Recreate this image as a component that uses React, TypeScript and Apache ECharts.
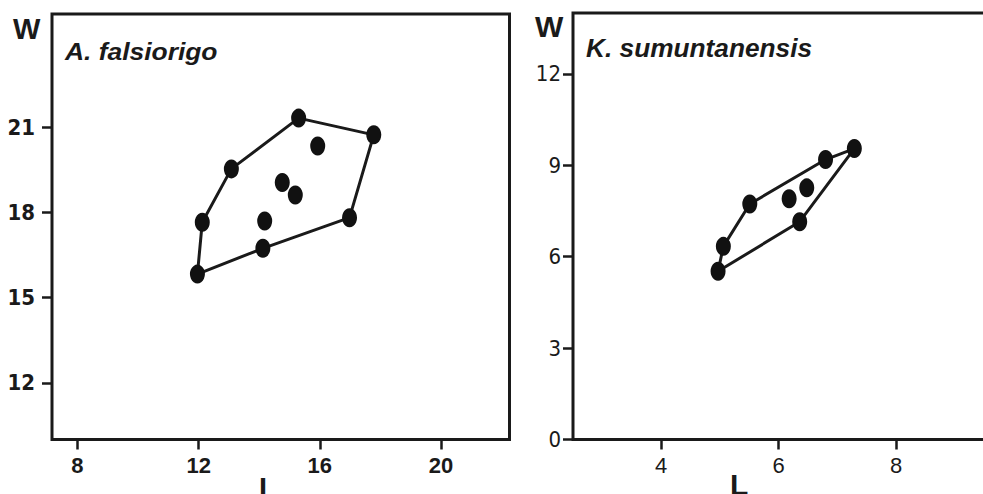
import React, { useEffect, useRef } from "react";
import * as echarts from "echarts";

// A. falsiorigo — length (L) and width (W)
const aL = [15.3, 17.78, 15.93, 13.08, 14.76, 15.19, 12.12, 14.18, 16.98, 14.12, 11.96];
const aW = [21.33, 20.74, 20.35, 19.54, 19.06, 18.62, 17.66, 17.7, 17.82, 16.74, 15.83];
const aHull = [10, 6, 3, 0, 1, 8, 9, 10];
const aLTicks = [8, 12, 16, 20];
const aWTicks = [12, 15, 18, 21];

// K. sumuntanensis — length (L) and width (W)
const kL = [7.29, 6.8, 5.51, 6.48, 6.18, 6.36, 5.06, 4.97];
const kW = [9.55, 9.19, 7.73, 8.26, 7.9, 7.15, 6.34, 5.52];
const kHull = [7, 6, 2, 1, 0, 5, 7];
const kLTicks = [4, 6, 8];
const kWTicks = [0, 3, 6, 9, 12];

const titles = ["A. falsiorigo", "K. sumuntanensis"];
const axisNames = { x: "L", y: "W" };

const INK = "#1a1a1a";
const NARROW = "'Liberation Sans Narrow', 'Arial Narrow', 'DejaVu Sans Condensed', sans-serif";
const SANS = "'Liberation Sans', Arial, Helvetica, sans-serif";

function pts(xs: number[], ys: number[]) {
  return xs.map((x, i) => [x, ys[i]]);
}
function hull(xs: number[], ys: number[], order: number[]) {
  return order.map((i) => [xs[i], ys[i]]);
}

export default function App() {
  const ref = useRef<HTMLDivElement>(null);
  useEffect(() => {
    if (!ref.current) return;
    const chart = echarts.init(ref.current, undefined, { renderer: "svg" });

    const xAxisBase = (gridIndex: number, min: number, max: number, ticks: number[], weight: string) => ({
      type: "value",
      gridIndex,
      min,
      max,
      axisLine: { show: false },
      splitLine: { show: false },
      axisTick: { show: true, inside: false, length: 10, lineStyle: { color: INK, width: 2.5 }, customValues: ticks },
      axisLabel: {
        show: true,
        margin: 15,
        customValues: ticks,
        color: INK,
        fontSize: 22,
        fontWeight: weight,
        fontFamily: SANS,
      },
    });
    const yAxisBase = (gridIndex: number, min: number, max: number, ticks: number[], weight: string, margin: number) => ({
      type: "value",
      gridIndex,
      min,
      max,
      axisLine: { show: false },
      splitLine: { show: false },
      axisTick: { show: true, inside: false, length: 10, lineStyle: { color: INK, width: 2.5 }, customValues: ticks },
      axisLabel: {
        show: true,
        margin,
        customValues: ticks,
        color: INK,
        fontSize: 22,
        fontWeight: weight,
        fontFamily: NARROW,
      },
    });

    const marker = { color: "#111", opacity: 1 };
    const lineStyle = { color: INK, width: 3 };

    const textEl = (text: string, x: number, y: number, size: number, style: string, scaleX = 1) => ({
      type: "text",
      x,
      y,
      scaleX,
      z: 100,
      style: {
        text,
        fill: INK,
        fontSize: size,
        fontWeight: "bold",
        fontStyle: style,
        fontFamily: SANS,
        align: "left",
        verticalAlign: "middle",
        textAlign: "left",
        textVerticalAlign: "middle",
      },
    });

    chart.setOption({
      animation: false,
      backgroundColor: "#ffffff",
      grid: [
        { left: 52, top: 14, width: 457.5, height: 425.5, show: true, borderColor: INK, borderWidth: 3, backgroundColor: "transparent" },
        { left: 573, top: 13, width: 417, height: 426.5, show: true, borderColor: INK, borderWidth: 3, backgroundColor: "transparent" },
      ],
      xAxis: [
        xAxisBase(0, 7.16, 22.26, aLTicks, "bold"),
        xAxisBase(1, 2.5, 9.6, kLTicks, "normal"),
      ],
      yAxis: [
        yAxisBase(0, 10, 25, aWTicks, "bold", 17),
        yAxisBase(1, 0, 14, kWTicks, "normal", 12),
      ],
      series: [
        {
          type: "line",
          xAxisIndex: 0,
          yAxisIndex: 0,
          data: hull(aL, aW, aHull),
          symbol: "none",
          lineStyle,
          silent: true,
        },
        {
          type: "scatter",
          xAxisIndex: 0,
          yAxisIndex: 0,
          data: pts(aL, aW),
          symbol: "circle",
          symbolSize: [15, 19],
          itemStyle: marker,
          z: 3,
        },
        {
          type: "line",
          xAxisIndex: 1,
          yAxisIndex: 1,
          data: hull(kL, kW, kHull),
          symbol: "none",
          lineStyle,
          silent: true,
        },
        {
          type: "scatter",
          xAxisIndex: 1,
          yAxisIndex: 1,
          data: pts(kL, kW),
          symbol: "circle",
          symbolSize: [15, 19],
          itemStyle: marker,
          z: 3,
        },
      ],
      graphic: [
        textEl(axisNames.y, 13, 29, 29, "normal"),
        textEl(axisNames.y, 535, 26, 30, "normal"),
        textEl(axisNames.x, 259, 488, 29, "normal"),
        textEl(axisNames.x, 730, 484, 30, "normal"),
        textEl(titles[0], 65, 51, 24, "italic", 1.1),
        textEl(titles[1], 586, 48.5, 25, "italic", 1.05),
      ],
    });

    return () => chart.dispose();
  }, []);

  return (
    <div
      style={{
        position: "fixed",
        left: 0,
        top: 0,
        width: 983,
        height: 494,
        overflow: "hidden",
        background: "#fff",
      }}
    >
      <div ref={ref} style={{ width: 1000, height: 494 }} />
    </div>
  );
}
